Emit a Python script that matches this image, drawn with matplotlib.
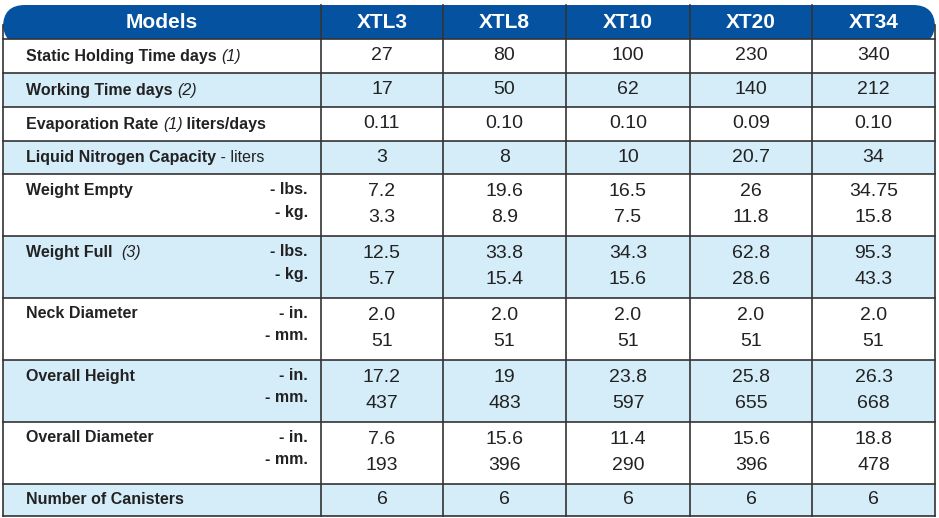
import matplotlib
matplotlib.use("Agg")
import matplotlib.pyplot as plt
from matplotlib.patches import FancyBboxPatch, Rectangle

models = ["XTL3", "XTL8", "XT10", "XT20", "XT34"]
# label parts: list of (text, style) ; units shown right-aligned
row_labels = [
    [("Static Holding Time days ", "bold"), ("(1)", "italic")],
    [("Working Time days ", "bold"), ("(2)", "italic")],
    [("Evaporation Rate ", "bold"), ("(1)", "italic"), (" liters/days", "bold")],
    [("Liquid Nitrogen Capacity", "bold"), (" - liters", "normal")],
    [("Weight Empty", "bold")],
    [("Weight Full  ", "bold"), ("(3)", "italic")],
    [("Neck Diameter", "bold")],
    [("Overall Height", "bold")],
    [("Overall Diameter", "bold")],
    [("Number of Canisters", "bold")],
]
row_units = [None, None, None, None, ("- lbs.", "- kg."), ("- lbs.", "- kg."),
             ("- in.", "- mm."), ("- in.", "- mm."), ("- in.", "- mm."), None]
values = [
    ["27", "80", "100", "230", "340"],
    ["17", "50", "62", "140", "212"],
    ["0.11", "0.10", "0.10", "0.09", "0.10"],
    ["3", "8", "10", "20.7", "34"],
    [("7.2", "3.3"), ("19.6", "8.9"), ("16.5", "7.5"), ("26", "11.8"), ("34.75", "15.8")],
    [("12.5", "5.7"), ("33.8", "15.4"), ("34.3", "15.6"), ("62.8", "28.6"), ("95.3", "43.3")],
    [("2.0", "51"), ("2.0", "51"), ("2.0", "51"), ("2.0", "51"), ("2.0", "51")],
    [("17.2", "437"), ("19", "483"), ("23.8", "597"), ("25.8", "655"), ("26.3", "668")],
    [("7.6", "193"), ("15.6", "396"), ("11.4", "290"), ("15.6", "396"), ("18.8", "478")],
    ["6", "6", "6", "6", "6"],
]

W, H = 939, 518
fig = plt.figure(figsize=(W/100, H/100), dpi=100)
ax = fig.add_axes([0, 0, 1, 1])
ax.set_xlim(0, W); ax.set_ylim(H, 0); ax.axis("off")

xs = [3, 321, 443, 566, 690, 812, 935]
ys = [5, 39, 73, 107, 141, 174, 236, 298, 360, 422, 484, 516]
blue = "#0552a0"; light = "#d5ecf9"; line = "#333333"
font = "Liberation Sans"

# header with rounded top
ax.add_patch(FancyBboxPatch((xs[0], ys[0]), xs[-1]-xs[0], 40, boxstyle="round,pad=0,rounding_size=22",
                            fc=blue, ec="none", zorder=1))
ax.add_patch(Rectangle((xs[0], ys[1]), xs[-1]-xs[0], 12, fc="white", ec="none", zorder=1.5))
for i in range(len(values)):
    fc = light if i % 2 == 1 else "white"
    ax.add_patch(Rectangle((xs[0], ys[i+1]), xs[-1]-xs[0], ys[i+2]-ys[i+1], fc=fc, ec="none", zorder=2))
# lines
for y in ys[1:]:
    ax.plot([xs[0], xs[-1]], [y, y], color=line, lw=1.2, zorder=3)
for x in xs[1:-1]:
    ax.plot([x, x], [ys[0], ys[-1]], color=line, lw=1.2, zorder=3)
for x in (xs[0], xs[-1]):
    ax.plot([x, x], [ys[0]+20, ys[-1]], color=line, lw=1.2, zorder=3)

hx = [(xs[i]+xs[i+1])/2 for i in range(6)]
hy = (ys[0]+ys[1])/2
ax.text(hx[0], hy, "Models", color="white", fontweight="bold", fontsize=15, ha="center", va="center", family=font, zorder=4)
for j, m in enumerate(models):
    ax.text(hx[j+1], hy, m, color="white", fontweight="bold", fontsize=15, ha="center", va="center", family=font, zorder=4)

fig.canvas.draw()
r = fig.canvas.get_renderer()
inv = ax.transData.inverted()
for i, parts in enumerate(row_labels):
    y0, y1 = ys[i+1], ys[i+2]
    two = row_units[i] is not None
    ty = y0 + 16 if two else (y0+y1)/2
    x = 26
    for txt, st in parts:
        kw = dict(fontsize=11.5, va="center", ha="left", family=font, color="#222222", zorder=4)
        if st == "italic":
            kw["fontstyle"] = "italic"
        elif st == "bold":
            kw["fontweight"] = "bold"
        t = ax.text(x, ty, txt, **kw)
        bb = t.get_window_extent(r)
        x = inv.transform((bb.x1, bb.y0))[0]
    if two:
        for k, u in enumerate(row_units[i]):
            ax.text(308, y0 + 16 + 22*k, u, fontsize=11.5, fontweight="bold", ha="right", va="center",
                    family=font, color="#222222", zorder=4)
    for j, v in enumerate(values[i]):
        if isinstance(v, tuple):
            for k, s in enumerate(v):
                ax.text(hx[j+1], y0 + 18 + 25*k, s, fontsize=14, ha="center", va="center", family=font,
                        color="#222222", zorder=4)
        else:
            ax.text(hx[j+1], (y0+y1)/2, v, fontsize=14, ha="center", va="center", family=font,
                    color="#222222", zorder=4)

fig.savefig("out.png", dpi=100)
